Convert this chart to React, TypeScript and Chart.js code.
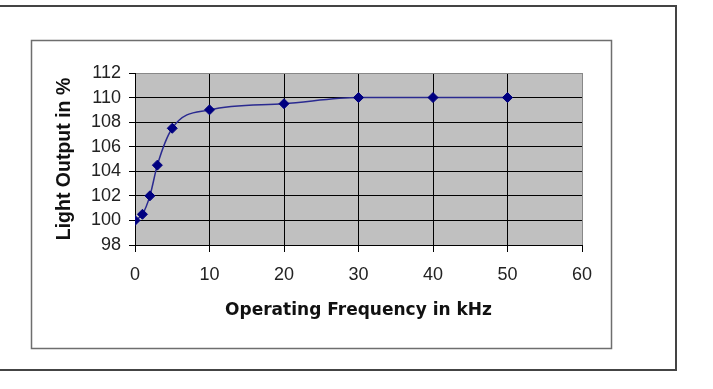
import React, { useEffect, useRef } from "react";
import { Chart, registerables } from "chart.js";

Chart.register(...registerables);

const frequencies = [0, 1, 2, 3, 5, 10, 20, 30, 40, 50];
const lightOutput = [100, 100.5, 102, 104.5, 107.5, 109, 109.5, 110, 110, 110];
const xTitle = "Operating Frequency in kHz";
const yTitle = "Light Output in %";

const framePlugin = {
  id: "frame",
  beforeDraw(chart: any) {
    const { ctx, chartArea } = chart;
    ctx.save();
    ctx.fillStyle = "#ffffff";
    ctx.fillRect(0, 0, chart.width, chart.height);
    // outer box
    ctx.strokeStyle = "#444444";
    ctx.lineWidth = 2;
    ctx.beginPath();
    ctx.moveTo(-5, 6);
    ctx.lineTo(676, 6);
    ctx.lineTo(676, 370);
    ctx.lineTo(-5, 370);
    ctx.stroke();
    // inner box
    ctx.strokeStyle = "#6e6e6e";
    ctx.lineWidth = 1.5;
    ctx.strokeRect(31.5, 40.5, 580, 308);
    // plot background
    ctx.fillStyle = "#c0c0c0";
    ctx.fillRect(chartArea.left, chartArea.top, chartArea.right - chartArea.left, chartArea.bottom - chartArea.top);
    ctx.restore();
  },
};

export default function App() {
  const ref = useRef<HTMLCanvasElement>(null);
  useEffect(() => {
    document.body.style.margin = "0";
    const chart = new Chart(ref.current!, {
      type: "line",
      data: {
        datasets: [
          {
            data: frequencies.map((f, i) => ({ x: f, y: lightOutput[i] })),
            borderColor: "#2a2a90",
            borderWidth: 1.5,
            backgroundColor: "#000080",
            pointBackgroundColor: "#000080",
            pointBorderColor: "#000080",
            pointStyle: "rectRot",
            pointRadius: 5,
            pointBorderWidth: 1,
            cubicInterpolationMode: "monotone",
            fill: false,
          },
        ],
      },
      options: {
        animation: false,
        responsive: false,
        maintainAspectRatio: false,
        layout: { padding: { left: 47, right: 131, top: 73, bottom: 68 } },
        plugins: { legend: { display: false }, tooltip: { enabled: false } },
        scales: {
          x: {
            type: "linear",
            min: 0,
            max: 60,
            ticks: {
              stepSize: 10,
              autoSkip: false,
              maxRotation: 0,
              padding: 12,
              color: "#222",
              font: { family: "Liberation Sans, Arial, sans-serif", size: 18 },
            },
            grid: {
              color: (c: any) => (c.tick && c.tick.value === 60 ? "#888888" : "#000000"),
              tickColor: "#000000",
              tickLength: 7,
              lineWidth: 1,
            },
            border: { color: "#000000", width: 1 },
            title: {
              display: true,
              text: xTitle,
              color: "#111",
              font: { family: "DejaVu Sans, sans-serif", size: 17, weight: "bold" },
              padding: { top: 0, bottom: 0 },
            },
            afterFit: (s: any) => {
              s.height = 76;
            },
          },
          y: {
            min: 98,
            max: 112,
            ticks: {
              stepSize: 2,
              autoSkip: false,
              padding: 8,
              color: "#222",
              font: { family: "Liberation Sans, Arial, sans-serif", size: 18 },
            },
            grid: {
              color: (c: any) => (c.tick && c.tick.value === 112 ? "#888888" : "#000000"),
              tickColor: "#000000",
              tickLength: 6,
              lineWidth: 1,
            },
            border: { color: "#000000", width: 1 },
            title: {
              display: true,
              text: yTitle,
              color: "#111",
              font: { family: "Liberation Sans, Arial, sans-serif", size: 19.5, weight: "bold" },
              padding: { top: 6, bottom: 0 },
            },
            afterFit: (s: any) => {
              s.width = 88;
            },
          },
        },
      },
      plugins: [framePlugin],
    } as any);
    return () => chart.destroy();
  }, []);
  return (
    <div style={{ position: "fixed", left: 0, top: 0, width: 713, height: 389, background: "#fff" }}>
      <canvas ref={ref} width={713} height={389} style={{ width: 713, height: 389, display: "block" }} />
    </div>
  );
}
